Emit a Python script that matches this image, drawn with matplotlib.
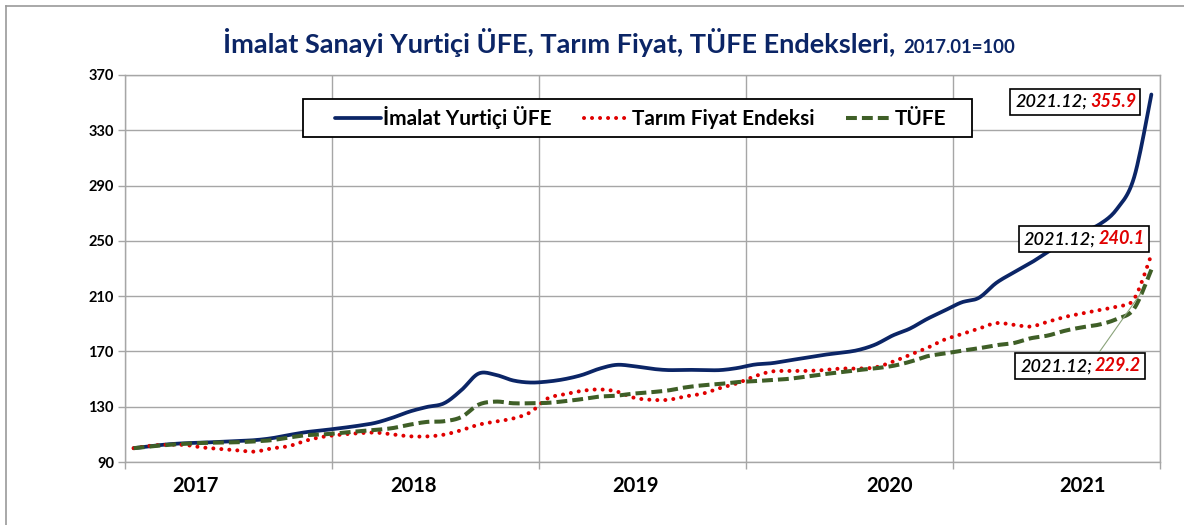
import numpy as np
import matplotlib
matplotlib.use("Agg")
import matplotlib.pyplot as plt
from matplotlib.lines import Line2D
from matplotlib.patches import Rectangle
from matplotlib.transforms import Bbox

plt.rcParams['font.family'] = ['Lato', 'DejaVu Sans']

# monthly values 2017.01 .. 2021.12 (2017.01 = 100)
ufe = [100.0, 101.5, 102.8, 103.6, 104.0, 104.6, 105.2, 105.8, 107.2, 109.5, 111.6, 113.0,
       114.5, 116.2, 118.3, 122.0, 126.5, 129.8, 132.5, 142.0, 154.0, 153.0, 149.0, 147.5,
       148.2, 150.0, 153.0, 157.5, 160.3, 159.3, 157.5, 156.5, 156.7, 156.5, 156.5, 158.0,
       160.5, 161.5, 163.5, 165.5, 167.5, 169.0, 171.0, 175.0, 181.5, 186.5, 193.5, 199.5,
       205.5, 208.8, 219.5, 227.0, 234.0, 242.0, 250.0, 256.5, 262.0, 273.0, 296.0, 355.9]
tarim = [100.0, 101.8, 102.5, 102.3, 100.5, 99.5, 98.5, 97.5, 99.8, 101.5, 105.5, 108.3,
         109.8, 110.8, 111.3, 110.0, 108.6, 108.5, 109.8, 113.0, 117.0, 119.3, 121.5, 126.0,
         136.0, 139.0, 141.5, 142.5, 141.0, 136.5, 135.0, 135.0, 137.5, 139.5, 143.5, 147.0,
         152.0, 155.5, 155.9, 155.9, 156.5, 157.6, 157.6, 158.5, 162.5, 167.5, 172.5, 178.5,
         182.5, 186.5, 190.5, 189.3, 188.0, 191.5, 195.0, 197.5, 200.0, 202.5, 208.0, 240.1]
tufe = [100.0, 101.3, 102.4, 103.2, 103.8, 104.1, 104.3, 104.9, 105.8, 107.7, 109.4, 110.0,
        111.0, 112.2, 113.2, 114.5, 117.0, 119.0, 119.5, 122.5, 131.5, 133.7, 132.5, 132.5,
        132.8, 134.0, 135.5, 137.3, 138.0, 139.5, 140.5, 141.8, 144.0, 145.5, 146.5, 147.8,
        148.5, 149.3, 150.2, 151.8, 153.5, 155.0, 156.5, 157.8, 159.5, 162.5, 166.5, 168.5,
        170.5, 172.3, 174.5, 176.0, 179.5, 181.5, 185.0, 187.5, 189.5, 193.5, 201.0, 229.2]

years = ['2017', '2018', '2019', '2020', '2021']
year_label_pos = [3.6, 16.2, 29.1, 43.8, 55.0]
last_label = '2021.12'

NAVY = '#0b2566'
RED = '#e00000'
GREEN = '#3f5f27'
GRID = '#a6a6a6'


def smooth(y, n=12):
    # catmull-rom, like excel's smoothed line
    y = np.asarray(y, float)
    x = np.arange(len(y), dtype=float)
    p = np.concatenate([[y[0]], y, [y[-1]]])
    q = np.concatenate([[x[0]], x, [x[-1]]])
    t = np.linspace(0, 1, n, endpoint=False)[:, None]
    xs, ys = [], []
    for arr, out in ((q, xs), (p, ys)):
        p0, p1, p2, p3 = arr[:-3], arr[1:-2], arr[2:-1], arr[3:]
        seg = 0.5 * (2 * p1 + (-p0 + p2) * t + (2 * p0 - 5 * p1 + 4 * p2 - p3) * t ** 2
                     + (-p0 + 3 * p1 - 3 * p2 + p3) * t ** 3)
        out.append(np.concatenate([seg.T.ravel(), arr[-2:-1]]))
    return xs[0], ys[0]


fig = plt.figure(figsize=(11.84, 5.25), dpi=100)
ax = fig.add_axes([125 / 1184, 1 - 462 / 525, 1035 / 1184, 387 / 525])

styles = [
    (ufe, dict(color=NAVY, lw=2.7, ls='-', solid_capstyle='round'), 'İmalat Yurtiçi ÜFE'),
    (tarim, dict(color=RED, lw=2.9, ls=(0, (0.01, 1.98)), dash_capstyle='round'), 'Tarım Fiyat Endeksi'),
    (tufe, dict(color=GREEN, lw=2.9, ls=(0, (2.7, 1.25))), 'TÜFE'),
]
handles = []
for vals, st, name in styles:
    xs, ys = smooth(vals)
    ax.plot(xs, ys, zorder=3, **st)
    handles.append(Line2D([], [], label=name, **st))

ax.set_xlim(-0.5, 59.5)
ax.set_ylim(90, 370)
ax.set_yticks(np.arange(90, 371, 40))
ax.set_xticks(np.arange(-0.5, 60, 12))
ax.set_xticklabels([])
ax.grid(True, color=GRID, lw=1.0)
ax.tick_params(axis='both', direction='out', length=5, color=GRID, width=1.0)
ax.tick_params(axis='y', labelsize=10.5, pad=3)
for lab in ax.get_yticklabels():
    lab.set_fontweight('bold')
for sp in ax.spines.values():
    sp.set_color(GRID)
    sp.set_linewidth(1.0)

for lab, pos in zip(years, year_label_pos):
    ax.text(pos, -0.062, lab, transform=ax.get_xaxis_transform(), ha='center', va='center',
            fontsize=14.5, fontweight='bold')

# legend: box drawn wider than the entries, like the excel one
ax.add_patch(Rectangle((0.172, 0.840), 0.646, 0.098, transform=ax.transAxes,
                       fc='white', ec='black', lw=1.3, zorder=5))
leg = ax.legend(handles=handles, loc='center', bbox_to_anchor=(0.498, 0.889), ncol=3,
                fontsize=15, frameon=False, handlelength=2.2,
                handletextpad=0.1, columnspacing=1.55, borderpad=0.3)
for t in leg.get_texts():
    t.set_fontweight('bold')
leg.set_zorder(6)

# title
t1 = fig.text(223 / 1184, 1 - 53 / 525, 'İmalat Sanayi Yurtiçi ÜFE, Tarım Fiyat, TÜFE Endeksleri,',
              fontsize=19.5, fontweight='bold', color=NAVY, ha='left', va='baseline')

# end-of-series labels: black date + red value inside one box
label_spots = [(51.1, 350.6, ufe), (51.6, 251.0, tarim), (51.4, 159.3, tufe)]
pairs = []
for bx, by, vals in label_spots:
    tb = ax.text(bx, by, f'{last_label};', ha='left', va='center', fontsize=13,
                 style='italic', fontweight='semibold', color='black', zorder=7)
    tr = ax.annotate(f'{vals[-1]:.1f}', xy=(1, 0), xycoords=tb, xytext=(2, 0),
                     textcoords='offset points', ha='left', va='bottom', fontsize=13,
                     style='italic', fontweight='bold', color=RED, zorder=7)
    pairs.append((tb, tr))

fig.canvas.draw()
bb = t1.get_window_extent()
fig.text((bb.x1 + 8) / 1184, 1 - 53 / 525, '2017.01=100', fontsize=13.3, fontweight='bold',
         color=NAVY, ha='left', va='baseline')

inv = ax.transData.inverted()
boxes = []
for tb, tr in pairs:
    u = Bbox.union([tb.get_window_extent(), tr.get_window_extent()])
    (x0, y0), (x1, y1) = inv.transform([[u.x0 - 5, u.y0 - 5], [u.x1 + 4, u.y1 + 4]])
    ax.add_patch(Rectangle((x0, y0), x1 - x0, y1 - y0, fc='white', ec='black', lw=1.2, zorder=6))
    boxes.append((x0, y0, x1, y1))

# leader line for the TÜFE label, from the top of its box
x0, y0, x1, y1 = boxes[2]
ax.annotate('', xy=(58.4, tufe[58] + 0.4 * (tufe[59] - tufe[58])),
            xytext=(x0 + 0.64 * (x1 - x0), y1),
            arrowprops=dict(arrowstyle='-', color='#8aa37a', lw=0.8,
                            shrinkA=0, shrinkB=0), zorder=4)

# outer chart border
fig.add_artist(Line2D([6 / 1184, 6 / 1184], [0, 1 - 6 / 525], color='#9a9a9a', lw=1.2))
fig.add_artist(Line2D([6 / 1184, 1], [1 - 6 / 525, 1 - 6 / 525], color='#9a9a9a', lw=1.2))

fig.savefig('out.png', dpi=100)
